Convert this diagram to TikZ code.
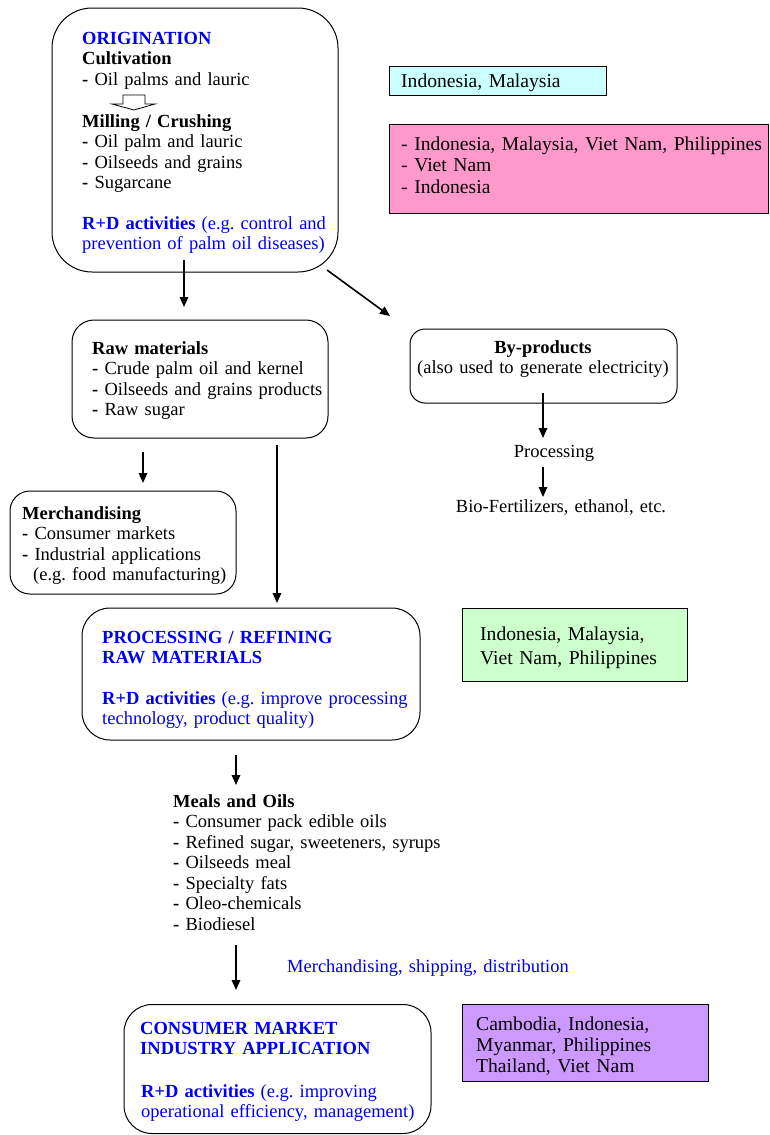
\documentclass[tikz,border=0pt]{standalone}
\usepackage{fontspec}
\setmainfont{Liberation Serif}
\usetikzlibrary{arrows.meta}
\definecolor{rdblue}{RGB}{0,0,240}
\definecolor{cyanbox}{RGB}{204,255,255}
\definecolor{pinkbox}{RGB}{255,153,204}
\definecolor{greenbox}{RGB}{204,255,204}
\definecolor{purplebox}{RGB}{204,153,255}
\frenchspacing
\begin{document}
\begin{tikzpicture}[x=1pt,y=-1pt,
  rbox/.style={draw, line width=1pt, rounded corners=#1, inner sep=0pt},
  cbox/.style={draw, line width=1pt, inner sep=0pt},
  txt/.style={anchor=base west, inner sep=0pt, text width=400pt, align=left, font=\fontsize{18.5}{20.5}\selectfont},
  ctxt/.style={anchor=base, inner sep=0pt, text width=320pt, align=center, font=\fontsize{18.5}{20.5}\selectfont},
  arr/.style={line width=1.6pt, -{Triangle[length=10pt,width=8.5pt]}},
  hollow/.style={draw, line width=0.8pt, fill=white},
]
\useasboundingbox (0,0) rectangle (769,1135);

% boxes
\node[rbox=40pt, minimum width=286pt, minimum height=264pt] (orig) at (195,140) {};
\node[cbox, fill=cyanbox, minimum width=217pt, minimum height=29pt] (cyan) at (497.5,80.5) {};
\node[cbox, fill=pinkbox, minimum width=379pt, minimum height=89pt] (pink) at (578.5,168.5) {};
\node[rbox=22pt, minimum width=256pt, minimum height=118pt] (raw) at (200,379) {};
\node[rbox=15pt, minimum width=267pt, minimum height=74pt] (byp) at (543.5,366) {};
\node[rbox=20pt, minimum width=226pt, minimum height=103pt] (merch) at (123,542.5) {};
\node[rbox=28pt, minimum width=338pt, minimum height=132pt] (proc) at (251,674) {};
\node[cbox, fill=greenbox, minimum width=225pt, minimum height=73pt] (green) at (574.5,644.5) {};
\node[rbox=28pt, minimum width=307pt, minimum height=129pt] (cons) at (277.5,1069) {};
\node[cbox, fill=purplebox, minimum width=246pt, minimum height=77pt] (purple) at (585,1042.5) {};

% texts in origination
\node[txt] (t-orig) at (82,44) {{\color{rdblue}\textbf{ORIGINATION}}\\ \textbf{Cultivation}\\ \textbf{-} Oil palms and lauric};
\draw[hollow] (123,95) -- (145,95) -- (145,104) -- (155,104) -- (134,110) -- (112,104) -- (123,104) -- cycle;
\node[txt] (t-mill) at (82,127) {\textbf{Milling / Crushing}\\ \textbf{-} Oil palm and lauric\\ \textbf{-} Oilseeds and grains\\ \textbf{-} Sugarcane};
\node[txt, text=rdblue] (t-rd1) at (82,229) {\textbf{R+D activities} (e.g. control and\\ prevention of palm oil diseases)};

% country boxes
\node[txt, font=\fontsize{19.6}{21.7}\selectfont] (t-cyan) at (401,87) {Indonesia, Malaysia};
\node[txt, font=\fontsize{19.6}{21.7}\selectfont] (t-pink) at (401,150) {- Indonesia, Malaysia, Viet Nam, Philippines\\ - Viet Nam\\ - Indonesia};

% raw materials
\node[txt] (t-raw) at (92,354) {\textbf{Raw materials}\\ \textbf{-} Crude palm oil and kernel\\ \textbf{-} Oilseeds and grains products\\ \textbf{-} Raw sugar};

% by-products
\node[ctxt] (t-byp) at (543,353) {\textbf{By-products}\\ (also used to generate electricity)};
\node[ctxt] (t-procx) at (554,457) {Processing};
\node[ctxt] (t-bio) at (561,512) {Bio-Fertilizers, ethanol, etc.};

% merchandising
\node[txt] (t-merch) at (22,519) {\textbf{Merchandising}\\ \textbf{-} Consumer markets\\ \textbf{-} Industrial applications\\ \hspace*{11pt}(e.g. food manufacturing)};

% processing
\node[txt, text=rdblue] (t-proc) at (102,643) {\textbf{PROCESSING / REFINING}\\ \textbf{RAW MATERIALS}};
\node[txt, text=rdblue] (t-rd2) at (102,704) {\textbf{R+D activities} (e.g. improve processing\\ technology, product quality)};
\node[txt, font=\fontsize{19.6}{24}\selectfont] (t-green) at (480,640) {Indonesia, Malaysia,\\ Viet Nam, Philippines};

% meals
\node[txt] (t-meals) at (173,807) {\textbf{Meals and Oils}\\ \textbf{-} Consumer pack edible oils\\ \textbf{-} Refined sugar, sweeteners, syrups\\ \textbf{-} Oilseeds meal\\ \textbf{-} Specialty fats\\ \textbf{-} Oleo-chemicals\\ \textbf{-} Biodiesel};
\node[txt, text=rdblue] (t-ship) at (287,972) {Merchandising, shipping, distribution};

% consumer
\node[txt, text=rdblue] (t-cons) at (140,1034) {\textbf{CONSUMER MARKET}\\ \textbf{INDUSTRY APPLICATION}};
\node[txt, text=rdblue] (t-rd3) at (141,1097) {\textbf{R+D activities} (e.g. improving\\ operational efficiency, management)};
\node[txt, font=\fontsize{19.6}{21}\selectfont] (t-purple) at (476,1030) {Cambodia, Indonesia,\\ Myanmar, Philippines\\ Thailand, Viet Nam};

% arrow end points
\coordinate (o1) at (184,260);
\coordinate (r1) at (184,307);
\coordinate (o2) at (327,270);
\coordinate (b1) at (390,316);
\coordinate (b2) at (543,393);
\coordinate (p1) at (543,438);
\coordinate (p2) at (543,467);
\coordinate (bio1) at (543,497);
\coordinate (r2) at (143,452);
\coordinate (m1) at (143,483);
\coordinate (r3) at (277,445);
\coordinate (pr1) at (277,603);
\coordinate (pr2) at (236,755);
\coordinate (me1) at (236,785);
\coordinate (me2) at (236,945);
\coordinate (c1) at (236,990);

\draw[arr] (o1) -- (r1);
\draw[arr] (o2) -- (b1);
\draw[arr] (b2) -- (p1);
\draw[arr] (p2) -- (bio1);
\draw[arr] (r2) -- (m1);
\draw[arr] (r3) -- (pr1);
\draw[arr] (pr2) -- (me1);
\draw[arr] (me2) -- (c1);
\end{tikzpicture}
\end{document}
